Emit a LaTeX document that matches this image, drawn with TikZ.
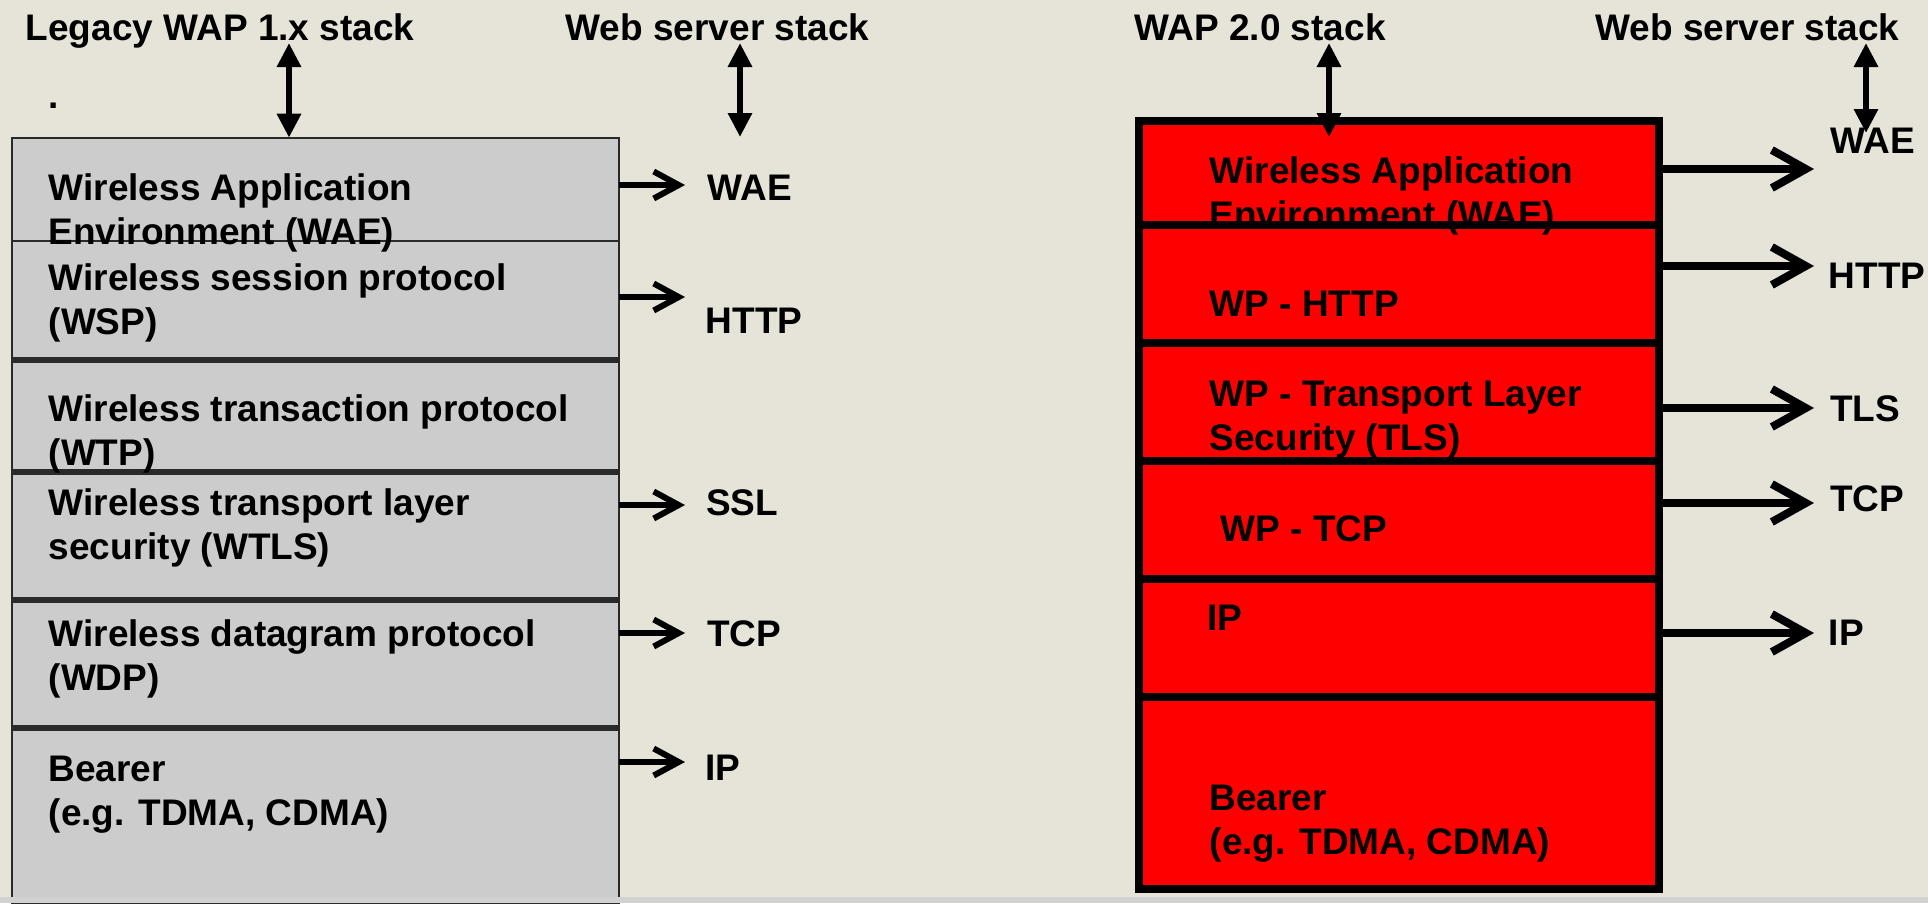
\documentclass[tikz,border=0pt]{standalone}
\usepackage{fontspec}
\setmainfont{Liberation Sans}
\usetikzlibrary{arrows.meta}
\definecolor{bgbeige}{HTML}{E6E4D8}
\definecolor{bargray}{HTML}{D2D2D2}
\definecolor{laygray}{HTML}{CCCCCC}
\definecolor{laydark}{HTML}{2A2A2A}
\begin{document}
\begin{tikzpicture}[x=1pt,y=-1pt,
  txt/.style={font=\fontsize{37}{44}\selectfont\bfseries, inner sep=0pt, anchor=base west, align=left},
  oldlay/.style={draw=laydark, line width=2pt, fill=laygray, minimum width=606.2pt, inner sep=0pt, outer sep=0pt, anchor=north west},
  newlay/.style={draw=black, line width=8pt, fill=red, minimum width=520pt, inner sep=0pt, outer sep=0pt, anchor=north west},
  thinarr/.style={line width=6pt, -{Straight Barb[length=25pt,width=27pt]}},
  thickarr/.style={line width=8pt, -{Straight Barb[length=34pt,width=38pt]}},
  dblarr/.style={line width=6pt, {Triangle[length=24pt,width=23pt]}-{Triangle[length=24pt,width=23pt]}}]
\useasboundingbox (0,0) rectangle (1928,903);
\fill[bgbeige] (0,0) rectangle (1928,903);
% titles
\node[txt] (ltitle) at (25.5,40) {Legacy WAP 1.x stack};
\node[txt] (lweb) at (565.5,40) {Web server stack};
\node[txt] (rtitle) at (1134.5,40) {WAP 2.0 stack};
\node[txt] (rweb) at (1595.5,40) {Web server stack};
\node[txt] (dot) at (48,108) {.};
% legacy WAP 1.x stack
\node[oldlay, minimum height=103.3pt] (lwae) at (12.3,137.7) {};
\node[oldlay, minimum height=119pt] (lwsp) at (lwae.south west) {};
\node[oldlay, minimum height=112pt] (lwtp) at (lwsp.south west) {};
\node[oldlay, minimum height=128pt] (lwtls) at (lwtp.south west) {};
\node[oldlay, minimum height=128pt] (lwdp) at (lwtls.south west) {};
\node[oldlay, minimum height=175pt] (lbear) at (lwdp.south west) {};
\foreach \n in {lwtp,lwtls,lwdp,lbear}
  \draw[line width=5.5pt, laydark] (\n.north west) -- (\n.north east);
% WAP 2.0 stack
\node[newlay, minimum height=104pt] (rwae) at (1138.5,121) {};
\node[newlay, minimum height=118pt] (rhttp) at (rwae.south west) {};
\node[newlay, minimum height=118pt] (rtls) at (rhttp.south west) {};
\node[newlay, minimum height=118pt] (rtcp) at (rtls.south west) {};
\node[newlay, minimum height=118pt] (rip) at (rtcp.south west) {};
\node[newlay, minimum height=192pt] (rbear) at (rip.south west) {};
% layer texts (base = last line)
\node[txt] (twae) at (48.5,244) {Wireless Application\\Environment (WAE)};
\node[txt] (twsp) at (48.5,334) {Wireless session protocol\\(WSP)};
\node[txt] (twtp) at (48.5,465) {Wireless transaction protocol\\(WTP)};
\node[txt] (twtls) at (48.5,559) {Wireless transport layer\\security (WTLS)};
\node[txt] (twdp) at (48.5,690) {Wireless datagram protocol\\(WDP)};
\node[txt] (tbear) at (48.5,825) {Bearer\\(e.g. TDMA, CDMA)};
\node[txt] (uwae) at (1209.5,227) {Wireless Application\\Environment (WAE)};
\node[txt] (uhttp) at (1209.5,316) {WP - HTTP};
\node[txt] (utls) at (1209.5,450) {WP - Transport Layer\\Security (TLS)};
\node[txt] (utcp) at (1220.5,541) {WP - TCP};
\node[txt] (uip) at (1207,630) {IP};
\node[txt] (ubear) at (1209.5,854) {Bearer\\(e.g. TDMA, CDMA)};
% web server labels
\node[txt] (lwaelab) at (707.5,200) {WAE};
\node[txt] (lhttplab) at (705.5,333) {HTTP};
\node[txt] (lssllab) at (706,515) {SSL};
\node[txt] (ltcplab) at (707,646) {TCP};
\node[txt] (liplab) at (705.5,780) {IP};
\node[txt] (rwaelab) at (1830.5,153) {WAE};
\node[txt] (rhttplab) at (1828.5,288) {HTTP};
\node[txt] (rtlslab) at (1830,421) {TLS};
\node[txt] (rtcplab) at (1830,511) {TCP};
\node[txt] (riplab) at (1828.5,645) {IP};
% arrows
\foreach \n/\y in {lwae/185,lwsp/297,lwtls/505,lwdp/633,lbear/762}{
  \coordinate (\n-tip) at (685,\y);
  \draw[thinarr] (\n.east |- \n-tip) -- (\n-tip);}
\foreach \n/\y in {rwae/169,rhttp/266,rtls/408,rtcp/503,rip/633}{
  \coordinate (\n-tip) at (1814,\y);
  \draw[thickarr] (\n.east |- \n-tip) -- (\n-tip);}
\coordinate (lup) at (289,43);
\coordinate (lwebup) at (740,43);
\coordinate (lwebdn) at (740,137);
\coordinate (rup) at (1329,43);
\coordinate (rdn) at (1329,137);
\coordinate (rwebup) at (1866,43);
\coordinate (rwebdn) at (1866,133);
\draw[dblarr] (lup) -- (lup |- lwae.north);
\draw[dblarr] (lwebup) -- (lwebdn);
\draw[dblarr] (rup) -- (rdn);
\draw[dblarr] (rwebup) -- (rwebdn);
\fill[bargray] (0,897) rectangle (1928,903);
\end{tikzpicture}
\end{document}
